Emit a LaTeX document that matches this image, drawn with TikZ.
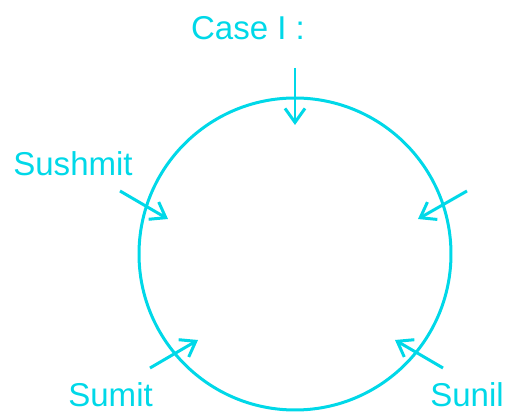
\documentclass[tikz,border=0pt]{standalone}
\usepackage{fontspec}
\setmainfont{Liberation Sans}
\usetikzlibrary{arrows.meta}
\definecolor{seat}{RGB}{0,216,232}
\begin{document}
\begin{tikzpicture}[x=0.02cm,y=-0.02cm,
    ring/.style={line width=0.06cm, draw=seat},
    pointer/.style={ring, -{Straight Barb[length=0.28cm,width=0.4cm,line width=0.06cm]}},
    seatname/.style={text=seat, inner sep=0pt, anchor=base west, font=\fontsize{18.8}{22}\selectfont}]
  % Marco de la imagen
  \useasboundingbox (0,0) rectangle (505,412);

  % Mesa redonda: centro y radio
  \def\cx{295}
  \def\cy{254}
  \def\rad{156}
  \coordinate (table) at (\cx,\cy);
  \draw[ring] (table) circle [radius=\rad];

  % Nombres
  \node[seatname, anchor=base] (case) at (248,40) {Case I :};
  \node[seatname] (sushmit) at (13,176) {Sushmit};
  \node[seatname] (sumit) at (68,407) {Sumit};
  \node[seatname] (sunil) at (430,407) {Sunil};

  % Flechas hacia la mesa
  \coordinate (top0) at (295,68);   \coordinate (top1) at (295,125);
  \coordinate (left0) at (120,191); \coordinate (left1) at (168,219);
  \coordinate (right0) at (467,191); \coordinate (right1) at (418,219);
  \coordinate (bl0) at (150,368);   \coordinate (bl1) at (198,340);
  \coordinate (br0) at (443,368);   \coordinate (br1) at (395,340);
  \foreach \p in {top,left,right,bl,br}
    \draw[pointer] (\p0) -- (\p1);
\end{tikzpicture}
\end{document}
